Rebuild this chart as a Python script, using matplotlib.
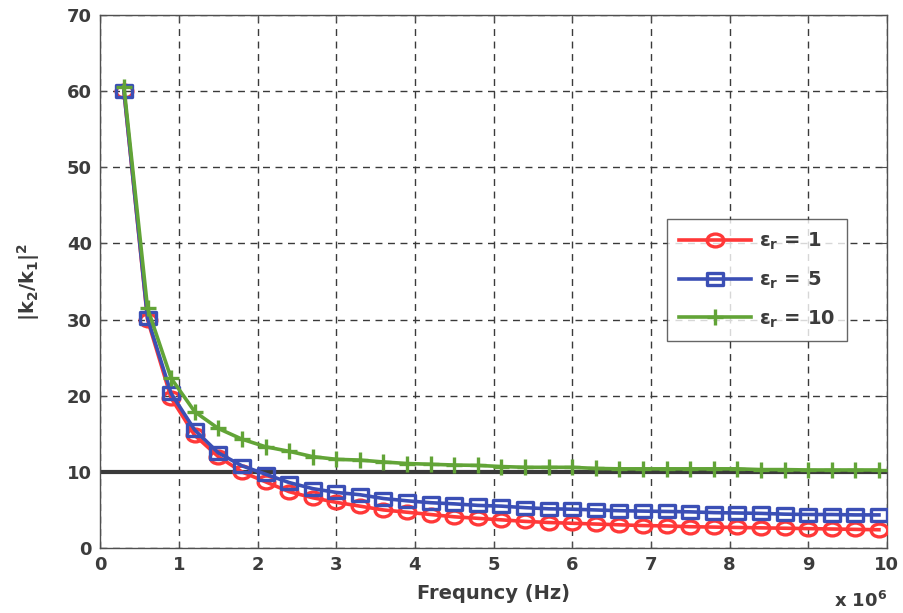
import matplotlib
matplotlib.use("Agg")
import matplotlib.pyplot as plt
from matplotlib.path import Path

plt.rcParams['font.family'] = ['DejaVu Sans']
plt.rcParams['font.weight'] = 'bold'
plt.rcParams['mathtext.fontset'] = 'custom'
plt.rcParams['mathtext.rm'] = 'DejaVu Sans:bold'
plt.rcParams['mathtext.it'] = 'DejaVu Sans:bold'
plt.rcParams['mathtext.bf'] = 'DejaVu Sans:bold'

# Frequency samples (units of 1e6 Hz)
freq = [0.3, 0.6, 0.9, 1.2, 1.5, 1.8, 2.1, 2.4, 2.7, 3.0, 3.3, 3.6, 3.9, 4.2, 4.5,
        4.8, 5.1, 5.4, 5.7, 6.0, 6.3, 6.6, 6.9, 7.2, 7.5, 7.8, 8.1, 8.4, 8.7, 9.0,
        9.3, 9.6, 9.9]

ratio_er1 = [60.0, 30.0, 19.7, 14.8, 12.0, 10.0, 8.7, 7.4, 6.6, 6.0, 5.5, 5.0, 4.7,
             4.4, 4.1, 3.9, 3.7, 3.5, 3.35, 3.25, 3.15, 3.05, 2.95, 2.9, 2.8, 2.75,
             2.7, 2.65, 2.6, 2.55, 2.5, 2.45, 2.4]
ratio_er5 = [60.0, 30.2, 20.3, 15.5, 12.5, 10.8, 9.7, 8.6, 7.8, 7.3, 7.0, 6.5, 6.2,
             5.95, 5.8, 5.6, 5.5, 5.3, 5.15, 5.1, 5.0, 4.9, 4.85, 4.8, 4.75, 4.65,
             4.6, 4.55, 4.45, 4.4, 4.4, 4.35, 4.35]
ratio_er10 = [60.6, 31.5, 22.3, 17.9, 15.7, 14.3, 13.3, 12.7, 12.0, 11.65, 11.55,
              11.3, 11.1, 11.0, 10.9, 10.85, 10.7, 10.6, 10.6, 10.6, 10.45, 10.4,
              10.4, 10.4, 10.4, 10.4, 10.4, 10.3, 10.3, 10.25, 10.25, 10.25, 10.25]

labels = [r'$ε_r$ = 1', r'$ε_r$ = 5', r'$ε_r$ = 10']
reference_level = 10

x_ticks = list(range(0, 11))
y_ticks = list(range(0, 71, 10))

text_color = '#3c3c3c'

# Slightly wide marker shapes (ellipse and rectangle)
_stretch = 1.3
_circ = Path.unit_circle()
ellipse_marker = Path(_circ.vertices * [_stretch, 1.0], _circ.codes)
rect_marker = Path([(-_stretch, -1), (_stretch, -1), (_stretch, 1), (-_stretch, 1),
                    (-_stretch, -1)],
                   [Path.MOVETO, Path.LINETO, Path.LINETO, Path.LINETO,
                    Path.CLOSEPOLY])

fig = plt.figure(figsize=(9.04, 6.13), dpi=100)
ax = fig.add_axes([0.111, 0.106, 0.870, 0.8695])

ax.plot([0, 10], [reference_level, reference_level], color='#3a3a3a', lw=3, zorder=2)

ax.plot(freq, ratio_er1, color='#ff3838', lw=2.6, marker=ellipse_marker,
        markersize=12, markerfacecolor='none', markeredgewidth=2.4,
        label=labels[0], zorder=3)
ax.plot(freq, ratio_er5, color='#3b4fb5', lw=2.6, marker=rect_marker,
        markersize=12, markerfacecolor='none', markeredgewidth=2.4,
        label=labels[1], zorder=4)
ax.plot(freq, ratio_er10, color='#62a437', lw=2.6, marker='+', markersize=11,
        markeredgewidth=2.4, label=labels[2], zorder=5)

ax.set_xlim(0, 10)
ax.set_ylim(0, 70)
ax.set_xticks(x_ticks)
ax.set_yticks(y_ticks)
ax.grid(True, linestyle=(0, (5, 4)), color='#3a3a3a', linewidth=1.0)
ax.set_axisbelow(True)

for sp in ax.spines.values():
    sp.set_color('#505050')
    sp.set_linewidth(1.0)
ax.tick_params(direction='in', length=4, color='#505050', labelcolor=text_color,
               labelsize=13, pad=6, top=True, right=True)
for lbl in ax.get_xticklabels() + ax.get_yticklabels():
    lbl.set_fontweight('bold')

ax.set_xlabel('Frequncy (Hz)', fontsize=14, fontweight='bold', color=text_color,
              labelpad=7)
ax.set_ylabel(r'$|k_2/k_1|^2$', fontsize=14, color=text_color, labelpad=18)
ax.text(1.0, -0.08, r'x 10$^6$', transform=ax.transAxes, ha='right', va='top',
        fontsize=13, fontweight='bold', color=text_color)

leg = ax.legend(loc='upper left', bbox_to_anchor=(667 / 904, 1 - 219 / 613),
                bbox_transform=fig.transFigure, fontsize=14,
                frameon=True, fancybox=False, edgecolor='#404040', handlelength=3.7,
                borderpad=0.6, labelspacing=0.9, handletextpad=0.45,
                borderaxespad=0)
leg.get_frame().set_linewidth(1.0)
for t in leg.get_texts():
    t.set_color(text_color)

fig.savefig('out.png', dpi=100)
